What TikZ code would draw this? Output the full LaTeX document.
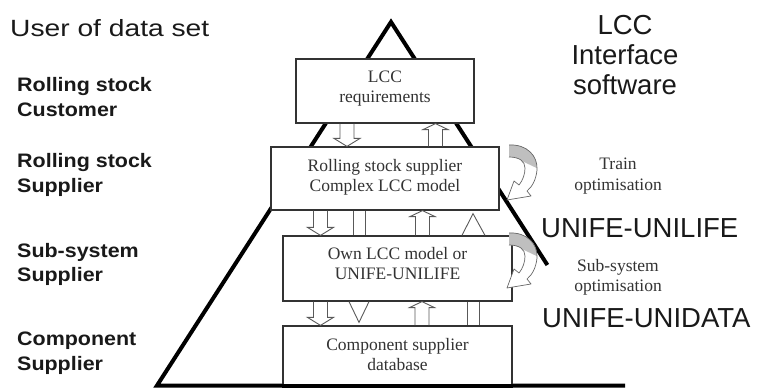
\documentclass[tikz,border=0pt]{standalone}
\usepackage{fontspec}
\setmainfont{Liberation Serif}
\newfontfamily\lsans{Liberation Sans}
\newfontfamily\lsanswide{Liberation Sans}[FakeStretch=1.2]
\newfontfamily\lsansbold{Liberation Sans}[FakeStretch=1.1]
\usetikzlibrary{calc}
\newcommand\stk[2]{\begin{tabular}[t]{@{}#1@{}}#2\end{tabular}}
% block arrow down: x, upper node, lower node
\newcommand\blkdown[3]{\draw[blk] let \p1=(#2.south), \p2=(#3.north) in
  (#1pt-7pt,\y1) -- (#1pt-7pt,\y2+8pt) -- (#1pt-13pt,\y2+8pt) -- (#1pt,\y2)
  -- (#1pt+13pt,\y2+8pt) -- (#1pt+7pt,\y2+8pt) -- (#1pt+7pt,\y1);}
% block arrow up: x, upper node, lower node
\newcommand\blkup[3]{\draw[blk] let \p1=(#2.south), \p2=(#3.north) in
  (#1pt-7pt,\y2) -- (#1pt-7pt,\y1-6pt) -- (#1pt-12.5pt,\y1-6pt) -- (#1pt,\y1)
  -- (#1pt+12.5pt,\y1-6pt) -- (#1pt+7pt,\y1-6pt) -- (#1pt+7pt,\y2);}
\tikzset{
  tri/.style={line width=4pt, draw=black, line join=miter},
  box/.style={draw=black!80, line width=1.2pt, fill=white, inner sep=0pt},
  boxtext/.style={inner sep=0pt, anchor=base, text=black!80,
    font=\fontsize{17.5}{20}\selectfont},
  blk/.style={draw=black!65, line width=0.9pt},
  lab/.style={inner sep=0pt, anchor=base west, text=black!90,
    font=\lsansbold\bfseries\fontsize{19.5}{24.5}\selectfont},
  big/.style={inner sep=0pt, text=black!90, font=\lsans\fontsize{27.5}{30}\selectfont},
  rtext/.style={inner sep=1pt, anchor=base, fill=white, text=black!80,
    font=\fontsize{17.5}{20.5}\selectfont},
  curvarrow/.pic={
    \path[fill=white] (509,145) .. controls (527,144) and (538,156) .. (537,170)
      .. controls (536,180) and (532,187) .. (527,191) -- (531,196) -- (507,200)
      -- (514,181) -- (519,185) .. controls (523,180) and (525,174) .. (525,168)
      .. controls (525,161) and (519,157) .. (509,157) -- cycle;
    \begin{scope}
      \clip (504,140) -- (545,140) -- (545,172) -- (524,162) -- (504,160) -- cycle;
      \fill[black!25] (509,145) .. controls (527,144) and (538,156) .. (537,170)
        -- (525,168) .. controls (525,161) and (519,157) .. (509,157) -- cycle;
    \end{scope}
    \draw[draw=black!60, line width=0.7pt, line join=round]
      (509,145) .. controls (527,144) and (538,156) .. (537,170)
      .. controls (536,180) and (532,187) .. (527,191) -- (531,196) -- (507,200)
      -- (514,181) -- (519,185) .. controls (523,180) and (525,174) .. (525,168)
      .. controls (525,161) and (519,157) .. (509,157);
  }
}
\begin{document}
\begin{tikzpicture}[x=1pt, y=-1pt]
\useasboundingbox (0,0) rectangle (760,390);
% pyramid (right flank hidden below the right-hand labels)
\draw[tri] (547.4,265) -- (391,22) -- (157,385.5) -- (625,385.5);
% boxes
\node[box, minimum width=178pt, minimum height=64pt] (b1) at (385,91) {};
\node[box, minimum width=228pt, minimum height=63pt] (b2) at (385,178.5) {};
\node[box, minimum width=229pt, minimum height=65pt] (b3) at (397.5,268.5) {};
\node[box, minimum width=229pt, minimum height=59pt] (b4) at (397.5,355.5) {};
\draw[tri] (b4.south west) -- (b4.south east);
% box texts
\node[boxtext] (t1) at (385,83) {\stk{c}{LCC\\requirements}};
\node[boxtext] (t2) at (385,172) {\stk{c}{Rolling stock supplier\\Complex LCC model}};
\node[boxtext] (t3) at (397.5,259.5) {\stk{c}{Own LCC model or\\UNIFE-UNILIFE}};
\node[boxtext] (t4) at (397.5,350) {\stk{c}{Component supplier\\database}};
% connectors b1-b2
\blkdown{347}{b1}{b2}
\blkup{435.5}{b1}{b2}
% connectors b2-b3
\blkdown{320.5}{b2}{b3}
\draw[blk] let \p1=(b2.south), \p2=(b3.north) in
  (353pt,\y1) -- (353pt,\y2) (365pt,\y1) -- (365pt,\y2);
\blkup{422.5}{b2}{b3}
\draw[blk] let \p1=(b2.south), \p2=(b3.north) in
  (462pt,\y2) -- (473pt,\y1-3pt) -- (485pt,\y2);
% connectors b3-b4
\blkdown{320.5}{b3}{b4}
\draw[blk] let \p1=(b3.south), \p2=(b4.north) in
  (349pt,\y1) -- (359pt,\y2+3pt) -- (369pt,\y1);
\blkup{422}{b3}{b4}
\draw[blk] let \p1=(b3.south), \p2=(b4.north) in
  (467pt,\y1) -- (467pt,\y2) (479pt,\y1) -- (479pt,\y2);
% curved optimisation arrows
\pic at (0,0) {curvarrow};
\pic at (0,88) {curvarrow};
% left labels
\node[inner sep=0pt, anchor=base west, text=black!90,
  font=\lsanswide\fontsize{23.5}{28}\selectfont] (user) at (10,37) {User of data set};
\node[lab] (l1) at (17,92) {\stk{l}{Rolling stock\\Customer}};
\node[lab] (l2) at (17,168) {\stk{l}{Rolling stock\\Supplier}};
\node[lab] (l3) at (17,257) {\stk{l}{Sub-system\\Supplier}};
\node[lab] (l4) at (17,345.5) {\stk{l}{Component\\Supplier}};
% right labels
\node[big, anchor=base] (lcc) at (625,35) {\stk{c}{LCC\\Interface\\software}};
\node[rtext] (train) at (618,170) {\stk{c}{Train\\optimisation}};
\node[big, anchor=base west, fill=white, inner sep=1pt] (unilife) at (540,237) {UNIFE-UNILIFE};
\node[rtext] (subsys) at (618,271) {\stk{c}{Sub-system\\optimisation}};
\node[big, anchor=base west, fill=white, inner sep=1pt] (unidata) at (541,327) {UNIFE-UNIDATA};
\end{tikzpicture}
\end{document}
